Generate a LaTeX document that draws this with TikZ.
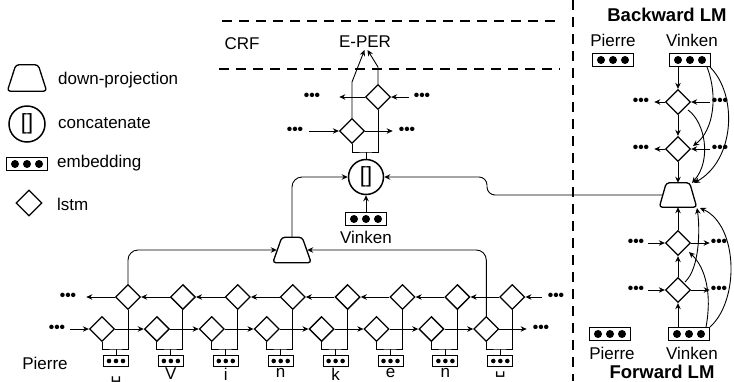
\documentclass[tikz,border=0pt]{standalone}
\usepackage{fontspec}
\setmainfont{Liberation Sans}
\newfontfamily\djv{DejaVu Sans}
\usetikzlibrary{shapes.geometric,arrows.meta}
\newcommand\mytrap[2]{\draw[line width=1.3pt, rounded corners=3pt, fill=white] ([xshift=#2]#1.north west) -- ([xshift=-#2]#1.north east) -- (#1.south east) -- (#1.south west) -- cycle;}
\begin{document}
\begin{tikzpicture}[x=1pt,y=-1pt,
  font=\fontsize{17}{20}\selectfont,
  lstm/.style={diamond, draw, line width=1.3pt, minimum width=25pt, minimum height=25pt, inner sep=0pt, aspect=1, fill=white},
  lstmL/.style={lstm, minimum width=26pt, minimum height=26pt},
  trap/.style={rectangle, minimum width=38pt, minimum height=25pt, inner sep=0pt},
  cat/.style={circle, draw, line width=1.5pt, minimum size=35pt, inner sep=0pt, font=\fontsize{22}{22}\selectfont},
  embL/.style={draw, line width=1.2pt, minimum width=41pt, minimum height=13pt, inner sep=0pt, path picture={\foreach \k in {-12,0,12} \fill ([xshift=\k pt]path picture bounding box.center) circle (4pt);}},
  embS/.style={draw, line width=1pt, minimum width=25pt, minimum height=11pt, inner sep=0pt, path picture={\foreach \k in {-7,0,7} \fill ([xshift=\k pt]path picture bounding box.center) circle (2.3pt);}},
  arr/.style={-{Stealth[length=6pt,width=5.5pt]}, line width=0.9pt},
  conn/.style={line width=0.9pt},
  dots/.style={font=\fontsize{15.5}{16}\selectfont\bfseries, inner sep=0pt},
  dashline/.style={line width=1.2pt, dash pattern=on 10pt off 7pt},
  lbl/.style={inner sep=0pt},
  boldlbl/.style={inner sep=0pt, font=\fontsize{18.5}{20}\selectfont\bfseries}
]
\useasboundingbox (0,0) rectangle (734,381);

% ---------- legend ----------
\node[trap, minimum width=39pt, minimum height=26pt] (lg1) at (27,78) {};
\mytrap{lg1}{8.5pt}
\node[lbl, anchor=west] (lt1) at (58,80) {down-projection};
\node[cat, minimum size=36pt] (lg2) at (27,124) {[]};
\node[lbl, anchor=west] (lt2) at (58,123) {concatenate};
\node[embL] (lg3) at (27,164) {};
\node[lbl, anchor=west] (lt3) at (57,163) {embedding};
\node[lstmL] (lg4) at (29,203) {};
\node[lbl, anchor=west] (lt4) at (57,204) {lstm};

% ---------- CRF ----------
\draw[dashline] (222,21) -- (560,21);
\draw[dashline] (219,69) -- (560,69);
\node[lbl] (crf) at (242,44) {CRF};
\node[lbl] (eper) at (365,42) {E-PER};

% ---------- top BiLSTM ----------
\node[lstm] (tb) at (378,97) {};
\node[lstm] (tf) at (352,131) {};
\node[cat] (cat) at (366,177) {[]};
\coordinate (tj) at (366,152);
\draw[conn] (tf.south) |- (tj) -| (tb.south);
\draw[conn] (cat.north) -- (tj);
\coordinate (ea) at (352,82);
\coordinate (eb) at (378,67);
\coordinate (ta) at (364.5,50);
\coordinate (tbb) at (367.5,50);
\draw[arr] (tf.north) -- (ea) -- (ta);
\draw[arr] (tb.north) -- (eb) -- (tbb);
\node[dots] (td1) at (422,97) {•••};
\node[dots] (td2) at (312,97) {•••};
\node[dots] (td3) at (295,131) {•••};
\node[dots] (td4) at (407,131) {•••};
\draw[arr] ([xshift=-5pt]td1.west) -- (tb.east);
\draw[arr] (tb.west) -- ([xshift=19pt]td2.east);
\draw[arr] ([xshift=6pt]td3.east) -- (tf.west);
\draw[arr] (tf.east) -- ([xshift=-6pt]td4.west);

\node[embL] (ve) at (366,219) {};
\node[lbl] (vlab) at (366,237) {Vinken};
\draw[arr] (ve.north) -- (cat.south);

% ---------- bottom trapezoid ----------
\node[trap] (ltrap) at (292,250) {};
\mytrap{ltrap}{9pt}
\draw[arr, rounded corners=10pt] (ltrap.north) |- (cat.west);

% ---------- bottom char BiLSTM ----------
\foreach \i in {0,...,7} {
  \pgfmathsetmacro\xe{116+54.9*\i}
  \node[embS] (e\i) at (\xe,361) {};
  \node[lstm] (f\i) at (\xe-14,329) {};
  \node[lstm] (b\i) at (\xe+12,297) {};
  \coordinate (j\i) at (\xe,349);
  \draw[conn] (f\i.south) |- (j\i) -| (b\i.south);
  \draw[conn] (e\i.north) -- (j\i);
}
\foreach \i [evaluate=\i as \j using int(\i+1)] in {0,...,6} {
  \draw[arr] (f\i.east) -- (f\j.west);
  \draw[arr] (b\j.west) -- (b\i.east);
}
\node[dots] (bd1) at (68,297) {•••};
\node[dots] (bd2) at (556,297) {•••};
\node[dots] (bd3) at (57,329) {•••};
\node[dots] (bd4) at (541,329) {•••};
\draw[arr] (b0.west) -- ([xshift=10pt]bd1.east);
\draw[arr] ([xshift=-6pt]bd2.west) -- (b7.east);
\draw[arr] ([xshift=5pt]bd3.east) -- (f0.west);
\draw[arr] (f7.east) -- ([xshift=-6pt]bd4.west);

\draw[arr, rounded corners=10pt] (b0.north) |- ([xshift=4pt]ltrap.west);
\draw[arr, rounded corners=10pt] (f7.north) |- ([xshift=-4pt]ltrap.east);

\node[lbl] (pierre) at (45,363) {Pierre};
\node[lbl, anchor=north] (c0) at (116,377) {\djv ␣};
\node[lbl, anchor=north] (c1) at (170.9,368) {V};
\node[lbl, anchor=north] (c2) at (225.8,368) {i};
\node[lbl, anchor=north] (c3) at (280.7,368) {n};
\node[lbl, anchor=north] (c4) at (335.6,368) {k};
\node[lbl, anchor=north] (c5) at (390.5,368) {e};
\node[lbl, anchor=north] (c6) at (445.4,368) {n};
\node[lbl, anchor=north] (c7) at (500.3,372) {\djv ␣};

% ---------- separator ----------
\draw[dashline] (573,0) -- (573,381);

% ---------- right: trapezoid ----------
\node[trap, minimum width=37pt, minimum height=24pt] (rtrap) at (678,195) {};
\mytrap{rtrap}{7pt}
\draw[arr, rounded corners=8pt] ([xshift=3.5pt]rtrap.west) -- (487,195) -- (487,177) -- (cat.east);

% ---------- Backward LM ----------
\node[boldlbl] (blm) at (667,15) {Backward LM};
\node[lbl] (bp) at (613,40) {Pierre};
\node[lbl] (bv) at (692,40) {Vinken};
\node[embL] (bpe) at (613,60) {};
\node[embL] (bve) at (690,60) {};
\node[lstm] (bb1) at (678,102) {};
\node[lstm] (bb2) at (678,149) {};
\draw[arr] (bb1 |- bve.south) -- (bb1.north);
\draw[arr] (bb1.south) -- (bb2.north);
\draw[arr] (bb2.south) -- (rtrap.north);
\foreach \n in {bb1,bb2} {
  \node[dots] (\n l) at ([xshift=-37pt]\n.center) {•••};
  \node[dots] (\n r) at ([xshift=42pt]\n.center) {•••};
  \draw[arr] (\n.west) -- ([xshift=5pt]\n l.east);
  \draw[arr] ([xshift=-2pt]\n r.west) -- (\n.east);
}
\coordinate (bc1) at (710,67);
\coordinate (bc2) at (707,67);
\coordinate (bt1) at (694,183);
\coordinate (bt2) at (692,183);
\coordinate (bd) at (693,146);
\coordinate (bs) at (688,110);
\draw[arr] (bc1) .. controls (738,95) and (735,160) .. (bt1);
\draw[arr] (bc2) .. controls (718,95) and (714,130) .. (bd);
\draw[arr] (bs) .. controls (705,122) and (712,160) .. (bt2);

% ---------- Forward LM ----------
\node[boldlbl] (flm) at (662,372) {Forward LM};
\node[lbl] (fp) at (612,353) {Pierre};
\node[lbl] (fv) at (692,353) {Vinken};
\node[embL] (fpe) at (610,334) {};
\node[embL] (fve) at (689,334) {};
\node[lstm] (bf1) at (678,243) {};
\node[lstm] (bf2) at (678,290) {};
\draw[arr] (bf2 |- fve.north) -- (bf2.south);
\draw[arr] (bf2.north) -- (bf1.south);
\draw[arr] (bf1.north) -- (rtrap.south);
\foreach \n in {bf1,bf2} {
  \node[dots] (\n l) at ([xshift=-42pt]\n.center) {•••};
  \node[dots] (\n r) at ([xshift=41pt]\n.center) {•••};
  \draw[arr] ([xshift=4pt]\n l.east) -- (\n.west);
  \draw[arr] (\n.east) -- ([xshift=-1pt]\n r.west);
}
\coordinate (fc1) at (710,327);
\coordinate (fc2) at (706,327);
\coordinate (ft1) at (700,208);
\coordinate (ft2) at (697,208);
\coordinate (fd) at (689,252);
\coordinate (fs) at (685,282);
\draw[arr] (fc1) .. controls (740,300) and (738,225) .. (ft1);
\draw[arr] (fc2) .. controls (712,295) and (706,268) .. (fd);
\draw[arr] (fs) .. controls (700,268) and (700,228) .. (ft2);
\end{tikzpicture}
\end{document}
